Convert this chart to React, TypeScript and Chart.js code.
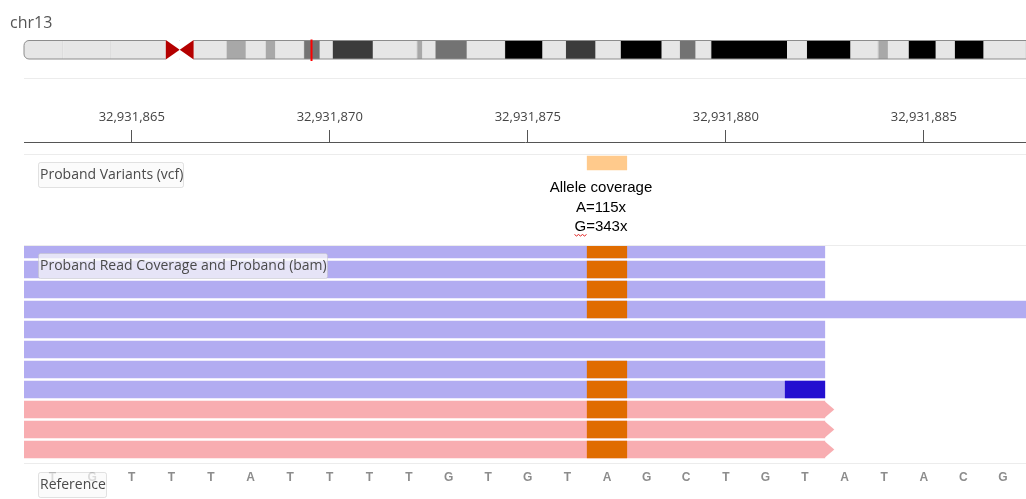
import React, { useEffect, useRef } from 'react';
import { Chart, registerables } from 'chart.js';

Chart.register(...registerables);

// ---------------- data ----------------
const CHROM_NAME = 'chr13';
const CHROM_LENGTH = 115169878;
const BAND_STARTS = [0, 4500000, 10000000, 16300000, 17900000, 19500000, 23300000, 25500000, 27800000, 28900000, 32200000, 34000000, 35500000, 40100000, 45200000, 45800000, 47300000, 50900000, 55300000, 59600000, 62300000, 65700000, 68600000, 73300000, 75400000, 77200000, 79000000, 87700000, 90000000, 95000000, 98200000, 99300000, 101700000, 104800000, 107000000, 110300000];
const BAND_ENDS = [4500000, 10000000, 16300000, 17900000, 19500000, 23300000, 25500000, 27800000, 28900000, 32200000, 34000000, 35500000, 40100000, 45200000, 45800000, 47300000, 50900000, 55300000, 59600000, 62300000, 65700000, 68600000, 73300000, 75400000, 77200000, 79000000, 87700000, 90000000, 95000000, 98200000, 99300000, 101700000, 104800000, 107000000, 110300000, 115169878];
const BAND_STAINS = ['gvar', 'stalk', 'gvar', 'acen', 'acen', 'gneg', 'gpos25', 'gneg', 'gpos25', 'gneg', 'gpos50', 'gneg', 'gpos75', 'gneg', 'gpos25', 'gneg', 'gpos50', 'gneg', 'gpos100', 'gneg', 'gpos75', 'gneg', 'gpos100', 'gneg', 'gpos50', 'gneg', 'gpos100', 'gneg', 'gpos100', 'gneg', 'gpos25', 'gneg', 'gpos100', 'gneg', 'gpos100', 'gneg'];

const VIEW_START = 32931862.28;
const VIEW_END = 32931887.58;
const TICK_STEP = 5;

const VARIANT_TRACK_LABEL = 'Proband Variants (vcf)';
const VARIANT_POS = [32931877];
const ALLELE_POPUP = ['Allele coverage', 'A=115x', 'G=343x'];

const ALIGN_TRACK_LABEL = 'Proband Read Coverage and Proband (bam)';
const READ_ROWS = [0, 1, 2, 3, 4, 5, 6, 7, 8, 9, 10];
const READ_FIRST_BASE = [32931838, 32931841, 32931836, 32931846, 32931839, 32931843, 32931840, 32931837, 32931842, 32931839, 32931844];
const READ_LAST_BASE = [32931882, 32931882, 32931882, 32931912, 32931882, 32931882, 32931882, 32931882, 32931882, 32931882, 32931882];
const READ_STRAND = ['-', '-', '-', '-', '-', '-', '-', '-', '+', '+', '+'];

const MISMATCH_ROWS = [0, 1, 2, 3, 6, 7, 8, 9, 10, 7];
const MISMATCH_POS = [32931877, 32931877, 32931877, 32931877, 32931877, 32931877, 32931877, 32931877, 32931877, 32931882];
const MISMATCH_BASE = ['G', 'G', 'G', 'G', 'G', 'G', 'G', 'G', 'G', 'C'];

const REF_LABEL = 'Reference';
const REF_START = 32931863;
const REF_SEQ = ['T', 'G', 'T', 'T', 'T', 'A', 'T', 'T', 'T', 'T', 'G', 'T', 'G', 'T', 'A', 'G', 'C', 'T', 'G', 'T', 'A', 'T', 'A', 'C', 'G'];

// ---------------- layout / style ----------------
const W = 1026;
const H = 499;
const AREA_LEFT = 24;
const AXIS_Y = 142;
const Y_MIN = -5.375;
const Y_MAX = 12.475;
const ROW_PX = (H - AXIS_Y) / (Y_MAX - Y_MIN);
const VARIANT_ROW = -4.325;
const REF_ROW = 11.425;
const VARIANT_TRACK_TOP = -4.725;
const ALIGN_TRACK_TOP = -0.175;
const REF_TRACK_TOP = 10.725;
const RULER_TOP_LINE = 78.5;

const BAND_COLORS: Record<string, string> = {
  gneg: '#e6e6e6', gvar: '#e6e6e6', stalk: '#e6e6e6',
  gpos25: '#a8a8a8', gpos50: '#737373', gpos75: '#3b3b3b', gpos100: '#000000', acen: '#b40000',
};
const BASE_COLORS: Record<string, string> = { G: '#e06c00', C: '#2410d0', A: '#1a9900', T: '#e00000' };
const MINUS_COLOR = 'rgb(178,172,241)';
const PLUS_COLOR = 'rgb(248,173,177)';
const VARIANT_COLOR = '#ffca8c';

const UI_FONT = '"Open Sans", "Noto Sans", sans-serif';
const POPUP_FONT = '"Liberation Sans", Arial, sans-serif';

const alignClip = { left: 0, right: 0, bottom: 0, top: -Math.round((ALIGN_TRACK_TOP - Y_MIN) * ROW_PX) };

function drawIdeogram(ctx: CanvasRenderingContext2D, left: number, right: number) {
  const top = 40.5;
  const h = 18.5;
  const r = 5;
  const px = (p: number) => left + (p / CHROM_LENGTH) * (right - left);
  ctx.save();
  const outline = () => {
    ctx.beginPath();
    ctx.moveTo(left + r, top);
    ctx.lineTo(right + 3, top);
    ctx.lineTo(right + 3, top + h);
    ctx.lineTo(left + r, top + h);
    ctx.arcTo(left, top + h, left, top + h - r, r);
    ctx.lineTo(left, top + r);
    ctx.arcTo(left, top, left + r, top, r);
    ctx.closePath();
  };
  outline();
  ctx.save();
  ctx.clip();
  for (let i = 0; i < BAND_STARTS.length; i++) {
    if (BAND_STAINS[i] === 'acen') continue;
    const x0 = px(BAND_STARTS[i]);
    const x1 = px(BAND_ENDS[i]);
    ctx.fillStyle = BAND_COLORS[BAND_STAINS[i]];
    ctx.fillRect(x0, top, x1 - x0, h);
    if (BAND_STAINS[i] === 'gvar' || BAND_STAINS[i] === 'stalk' || BAND_STAINS[i] === 'gneg') {
      ctx.fillStyle = 'rgba(0,0,0,0.04)';
      ctx.fillRect(Math.round(x1) - 1, top, 1, h);
    }
  }
  ctx.restore();
  ctx.strokeStyle = '#8c8c8c';
  ctx.lineWidth = 1;
  outline();
  ctx.stroke();
  // centromere
  let first = true;
  for (let i = 0; i < BAND_STARTS.length; i++) {
    if (BAND_STAINS[i] !== 'acen') continue;
    const x0 = px(BAND_STARTS[i]);
    const x1 = px(BAND_ENDS[i]);
    ctx.fillStyle = '#ffffff';
    ctx.fillRect(x0, top - 1, x1 - x0, h + 2);
    ctx.fillStyle = BAND_COLORS.acen;
    ctx.beginPath();
    if (first) {
      ctx.moveTo(x0, top - 0.5);
      ctx.lineTo(x1, top + h / 2);
      ctx.lineTo(x0, top + h + 0.5);
    } else {
      ctx.moveTo(x1, top - 0.5);
      ctx.lineTo(x0, top + h / 2);
      ctx.lineTo(x1, top + h + 0.5);
    }
    ctx.closePath();
    ctx.fill();
    first = false;
  }
  // current view marker
  const mx = px((VIEW_START + VIEW_END) / 2) + 1;
  ctx.strokeStyle = '#ff0000';
  ctx.lineWidth = 2;
  ctx.beginPath();
  ctx.moveTo(mx, top - 1);
  ctx.lineTo(mx, top + h + 2);
  ctx.stroke();
  ctx.restore();
}

function drawTrackLabel(ctx: CanvasRenderingContext2D, text: string, x: number, top: number) {
  ctx.save();
  ctx.font = `14px ${UI_FONT}`;
  const w = ctx.measureText(text).width;
  const bw = Math.round(w + 2);
  const bh = 25;
  ctx.beginPath();
  if ((ctx as any).roundRect) (ctx as any).roundRect(x + 0.5, top + 0.5, bw, bh, 2);
  else ctx.rect(x + 0.5, top + 0.5, bw, bh);
  ctx.fillStyle = 'rgba(249,249,249,0.72)';
  ctx.fill();
  ctx.strokeStyle = 'rgba(190,190,190,0.45)';
  ctx.lineWidth = 1;
  ctx.stroke();
  ctx.fillStyle = '#4a4a4a';
  ctx.textAlign = 'left';
  ctx.textBaseline = 'middle';
  ctx.fillText(text, x + 2, top + bh / 2 + 1);
  ctx.restore();
}

const igvPlugin = {
  id: 'igvDecor',
  beforeDatasetsDraw(chart: any) {
    const { ctx, chartArea } = chart;
    const x = chart.scales.x;
    const y = chart.scales.y;
    ctx.save();
    // title
    ctx.fillStyle = '#555';
    ctx.font = `16px ${UI_FONT}`;
    ctx.textAlign = 'left';
    ctx.textBaseline = 'alphabetic';
    ctx.fillText(CHROM_NAME, 10, 28);
    drawIdeogram(ctx, chartArea.left, chartArea.right);
    // separators
    ctx.strokeStyle = '#ececec';
    ctx.lineWidth = 1;
    const ys = [RULER_TOP_LINE, ...[VARIANT_TRACK_TOP, ALIGN_TRACK_TOP, REF_TRACK_TOP].map((v) => Math.round(y.getPixelForValue(v)) - 0.5)];
    ys.forEach((yy) => {
      ctx.beginPath();
      ctx.moveTo(chartArea.left, yy);
      ctx.lineTo(chartArea.right, yy);
      ctx.stroke();
    });
    // reference sequence
    ctx.font = `bold 12px ${POPUP_FONT}`;
    ctx.fillStyle = '#8c8c8c';
    ctx.textAlign = 'center';
    ctx.textBaseline = 'middle';
    const ry = y.getPixelForValue(REF_ROW);
    REF_SEQ.forEach((b, i) => {
      const bx = x.getPixelForValue(REF_START + i);
      if (bx > chartArea.left && bx < chartArea.right) ctx.fillText(b, bx, ry);
    });
    ctx.restore();
  },
  afterDatasetsDraw(chart: any) {
    const { ctx, chartArea } = chart;
    const x = chart.scales.x;
    const y = chart.scales.y;
    ctx.save();
    // strand arrow tips
    const meta = chart.getDatasetMeta(1);
    meta.data.forEach((el: any, i: number) => {
      if (READ_STRAND[i] !== '+') return;
      const hh = el.height / 2;
      ctx.fillStyle = PLUS_COLOR;
      ctx.beginPath();
      ctx.moveTo(el.x - 0.5, el.y - hh);
      ctx.lineTo(el.x + 9.5, el.y);
      ctx.lineTo(el.x - 0.5, el.y + hh);
      ctx.closePath();
      ctx.fill();
    });
    // allele popup text
    const vx = x.getPixelForValue(VARIANT_POS[0]) - 6;
    const vy = y.getPixelForValue(VARIANT_ROW);
    ctx.fillStyle = '#000';
    ctx.font = `15px ${POPUP_FONT}`;
    ctx.textAlign = 'center';
    ctx.textBaseline = 'alphabetic';
    ALLELE_POPUP.forEach((t, i) => ctx.fillText(t, vx, vy + 29 + i * 19.5));
    // spell-check squiggle under the G
    const lastLine = ALLELE_POPUP[ALLELE_POPUP.length - 1];
    const lw = ctx.measureText(lastLine).width;
    const gw = ctx.measureText(lastLine[0]).width;
    const sx = vx - lw / 2;
    const sy = vy + 29 + (ALLELE_POPUP.length - 1) * 19.5 + 3.5;
    ctx.strokeStyle = '#e02020';
    ctx.lineWidth = 1;
    ctx.beginPath();
    for (let k = 0; k <= gw + 2; k += 2) {
      const yy = sy + (k % 4 === 0 ? 0 : 1.5);
      if (k === 0) ctx.moveTo(sx + k, yy);
      else ctx.lineTo(sx + k, yy);
    }
    ctx.stroke();
    // track labels
    const lx = chartArea.left + 14;
    drawTrackLabel(ctx, VARIANT_TRACK_LABEL, lx, Math.round(y.getPixelForValue(VARIANT_TRACK_TOP)) + 7);
    drawTrackLabel(ctx, ALIGN_TRACK_LABEL, lx, Math.round(y.getPixelForValue(ALIGN_TRACK_TOP)) + 7);
    drawTrackLabel(ctx, REF_LABEL, lx, Math.round(y.getPixelForValue(REF_TRACK_TOP)) + 8);
    ctx.restore();
  },
};

export default function App() {
  const ref = useRef<HTMLCanvasElement>(null);
  useEffect(() => {
    const canvas = ref.current;
    if (!canvas) return;
    let alive = true;
    const chart = new Chart(canvas, {
      type: 'bar',
      data: {
        datasets: [
          {
            label: 'mismatches',
            data: MISMATCH_ROWS.map((r, i) => ({ x: [MISMATCH_POS[i] - 0.5, MISMATCH_POS[i] + 0.5], y: r })),
            backgroundColor: MISMATCH_BASE.map((b) => BASE_COLORS[b]),
            barThickness: 17,
            grouped: false,
            borderWidth: 0,
            clip: alignClip,
          } as any,
          {
            label: 'reads',
            data: READ_ROWS.map((r, i) => ({ x: [READ_FIRST_BASE[i] - 0.5, READ_LAST_BASE[i] + 0.5], y: r })),
            backgroundColor: READ_STRAND.map((s) => (s === '+' ? PLUS_COLOR : MINUS_COLOR)),
            barThickness: 17,
            grouped: false,
            borderWidth: 0,
            clip: alignClip,
          } as any,
          {
            label: 'variants',
            data: VARIANT_POS.map((p) => ({ x: [p - 0.5, p + 0.5], y: VARIANT_ROW })),
            backgroundColor: VARIANT_COLOR,
            barThickness: 14,
            grouped: false,
            borderWidth: 0,
          } as any,
        ],
      },
      options: {
        indexAxis: 'y',
        animation: false,
        responsive: false,
        events: [],
        layout: { padding: { left: AREA_LEFT, right: 0, top: 0, bottom: 0 } },
        plugins: { legend: { display: false }, tooltip: { enabled: false } },
        scales: {
          x: {
            type: 'linear',
            position: 'top',
            min: VIEW_START,
            max: VIEW_END,
            offset: false,
            afterFit: (s: any) => { s.height = AXIS_Y; },
            grid: { drawOnChartArea: false, drawTicks: true, tickLength: 12, color: '#555', tickColor: '#555', lineWidth: 1, offset: false },
            border: { display: true, color: '#555', width: 1 },
            ticks: {
              stepSize: TICK_STEP,
              includeBounds: false,
              autoSkip: false,
              maxRotation: 0,
              padding: 5,
              color: '#444',
              font: { family: UI_FONT, size: 13 },
              callback: (v: any) => Number(v).toLocaleString('en-US'),
            },
          },
          y: {
            type: 'linear',
            display: false,
            reverse: true,
            offset: false,
            grid: { offset: false },
            min: Y_MIN,
            max: Y_MAX,
          },
        },
      } as any,
      plugins: [igvPlugin],
    });
    if ((document as any).fonts && (document as any).fonts.ready) {
      (document as any).fonts.ready.then(() => { if (alive) chart.update('none'); });
    }
    return () => { alive = false; chart.destroy(); };
  }, []);
  return (
    <div style={{ position: 'absolute', left: 0, top: 0, width: W, height: H, background: '#fff' }}>
      <canvas ref={ref} width={W} height={H} style={{ display: 'block' }} />
    </div>
  );
}
